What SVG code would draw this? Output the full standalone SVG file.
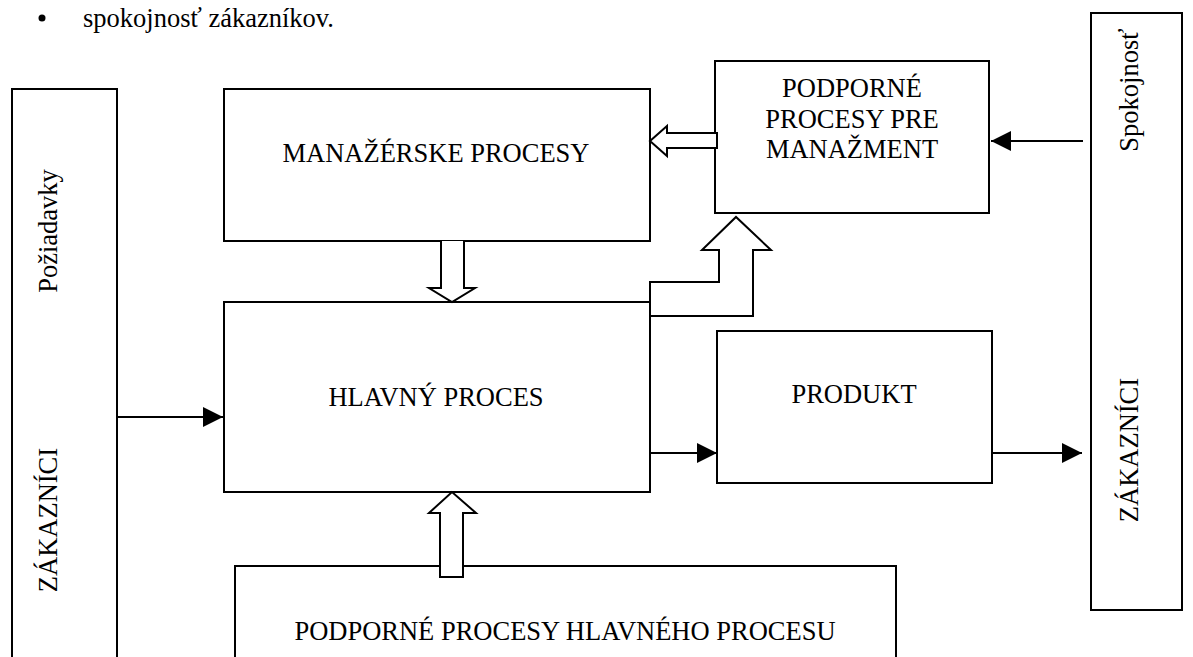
<svg xmlns="http://www.w3.org/2000/svg" width="1193" height="657" viewBox="0 0 1193 657">
<style>
.box{fill:#fff;stroke:#000;stroke-width:2}
.t{font-family:"Liberation Serif","Times New Roman","DejaVu Serif",serif;font-size:26.5px;fill:#000}
.c{text-anchor:middle}
.ln{fill:none;stroke:#000;stroke-width:2}
.hol{fill:#fff;stroke:#000;stroke-width:2;stroke-linejoin:miter}
</style>
<defs>
<marker id="ah" markerUnits="userSpaceOnUse" markerWidth="20" markerHeight="20" refX="20" refY="10" orient="auto">
<path d="M0,0 L20,10 L0,20 z" fill="#000"/>
</marker>
</defs>
<rect width="1193" height="657" fill="#fff"/>
<g id="bullet">
<circle cx="42" cy="18" r="3.5" fill="#000"/>
<text class="t" x="83" y="27">spokojnosť zákazníkov.</text>
</g>
<g id="zakaznici-left">
<rect class="box" x="12" y="89" width="105" height="600"/>
<text class="t c" transform="translate(57,231) rotate(-90)">Požiadavky</text>
<text class="t c" transform="translate(57,520) rotate(-90)">ZÁKAZNÍCI</text>
</g>
<g id="manazerske">
<rect class="box" x="224" y="89" width="426" height="152"/>
<text class="t c" x="436" y="162">MANAŽÉRSKE PROCESY</text>
</g>
<g id="podporne-manazment">
<rect class="box" x="715" y="61" width="274" height="152"/>
<text class="t c" x="852" y="97">PODPORNÉ</text>
<text class="t c" x="852" y="128">PROCESY PRE</text>
<text class="t c" x="852" y="158">MANAŽMENT</text>
</g>
<g id="zakaznici-right">
<rect class="box" x="1091" y="13" width="91" height="597"/>
<text class="t c" transform="translate(1138,90) rotate(-90)">Spokojnosť</text>
<text class="t c" transform="translate(1138,450) rotate(-90)">ZÁKAZNÍCI</text>
</g>
<g id="hlavny">
<rect class="box" x="224" y="302" width="426" height="190"/>
<text class="t c" x="436" y="406">HLAVNÝ PROCES</text>
</g>
<g id="produkt">
<rect class="box" x="717" y="331" width="275" height="152"/>
<text class="t c" x="854" y="403">PRODUKT</text>
</g>
<g id="podporne-hlavneho">
<rect class="box" x="235" y="566" width="661" height="120"/>
<text class="t c" x="565" y="640">PODPORNÉ PROCESY HLAVNÉHO PROCESU</text>
</g>
<g id="connectors">
<line class="ln" x1="117" y1="417" x2="223" y2="417" marker-end="url(#ah)"/>
<line class="ln" x1="650" y1="453" x2="717" y2="453" marker-end="url(#ah)"/>
<line class="ln" x1="992" y1="453" x2="1082" y2="453" marker-end="url(#ah)"/>
<line class="ln" x1="1083" y1="141" x2="991" y2="141" marker-end="url(#ah)"/>
<path class="hol" d="M717,133 L667,133 L667,126 L650,141 L667,156 L667,148 L717,148 Z"/>
<path class="hol" d="M441,241 L441,288 L429,288 L452,302 L475,288 L464,288 L464,241"/>
<path class="hol" d="M440,577 L440,513 L429,513 L452,492 L476,513 L463,513 L463,577 Z"/>
<path class="hol" d="M650,282 L719,282 L719,250 L702,250 L736,217 L771,250 L753,250 L753,316 L650,316 Z"/>
</g>
</svg>
